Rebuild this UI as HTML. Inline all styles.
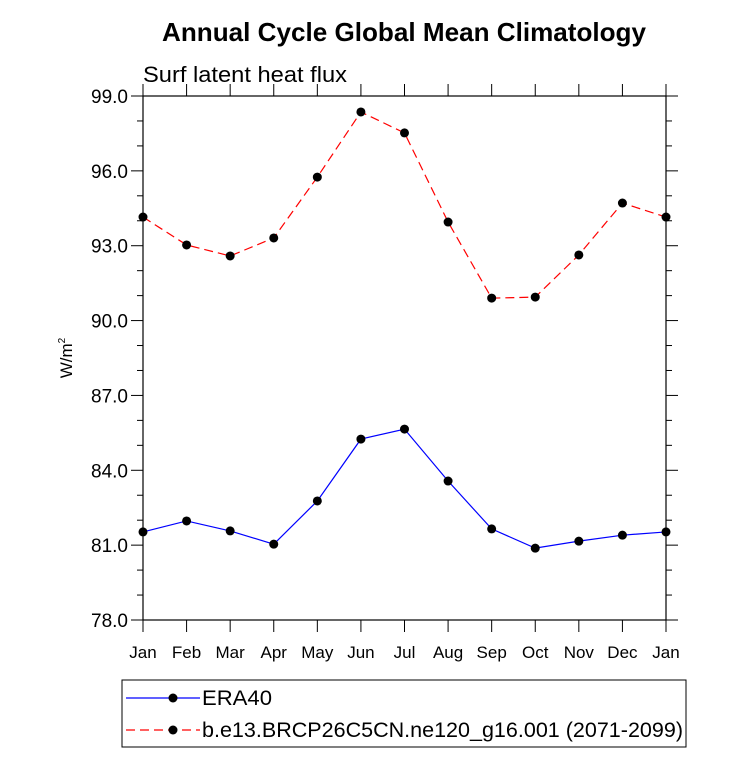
<!DOCTYPE html>
<html><head><meta charset="utf-8"><style>
body{margin:0;background:#fff;}
svg text{font-family:"Liberation Sans",Arial,sans-serif;}
</style></head><body>
<svg id="chart" width="733" height="755" xmlns="http://www.w3.org/2000/svg">
<text x="404" y="41" text-anchor="middle" font-size="26" font-weight="bold" textLength="484" lengthAdjust="spacingAndGlyphs">Annual Cycle Global Mean Climatology</text>
<text x="143" y="82" font-size="22" textLength="204" lengthAdjust="spacingAndGlyphs">Surf latent heat flux</text>
<g id="axes"></g>
<g id="series"></g>
<rect x="122" y="680" width="564" height="67" fill="none" stroke="#000" stroke-width="1"/>
<line x1="126" y1="698" x2="200" y2="698" stroke="#00f" stroke-width="1.2"/>
<circle cx="173" cy="698" r="4.5" fill="#000"/>
<text x="202" y="705" font-size="21" textLength="70" lengthAdjust="spacingAndGlyphs">ERA40</text>
<line x1="126" y1="730" x2="200" y2="730" stroke="#f00" stroke-width="1.2" stroke-dasharray="9,5"/>
<circle cx="173" cy="730" r="4.5" fill="#000"/>
<text x="202" y="737" font-size="21" textLength="481" lengthAdjust="spacingAndGlyphs">b.e13.BRCP26C5CN.ne120_g16.001 (2071-2099)</text>
</svg>
<script>
const months=["Jan","Feb","Mar","Apr","May","Jun","Jul","Aug","Sep","Oct","Nov","Dec","Jan"];
const era40=[81.53,81.97,81.57,81.04,82.77,85.25,85.65,83.57,81.65,80.88,81.16,81.4,81.53];
const model=[94.15,93.03,92.59,93.31,95.75,98.36,97.52,93.95,90.9,90.94,92.63,94.71,94.15];
const yTicks=[78,81,84,87,90,93,96,99];
const L=143,R=666,T=96,B=620,ymin=78,ymax=99;
const NS="http://www.w3.org/2000/svg";
function x(i){return L+(R-L)*i/(months.length-1);}
function y(v){return B-(v-ymin)/(ymax-ymin)*(B-T);}
function mk(tag,attrs,parent){const e=document.createElementNS(NS,tag);for(const k in attrs)e.setAttribute(k,attrs[k]);parent.appendChild(e);return e;}
const ax=document.getElementById('axes');
const frame=mk('rect',{x:L,y:T,width:R-L,height:B-T,fill:'none',stroke:'#000','stroke-width':1.2},ax);


months.forEach((m,i)=>{
  const t1=mk('line',{x1:x(i),x2:x(i),y1:B,y2:B+12,stroke:'#000'},ax);
  
  
  const t2=mk('line',{x1:x(i),x2:x(i),y1:T,y2:T-12,stroke:'#000'},ax);
  
  
  const lb=mk('text',{x:x(i),y:B+38,'text-anchor':'middle','font-size':17},ax);
  lb.textContent=m;
  
  
});
for(let v=ymin;v<=ymax;v+=1){
  const major=yTicks.includes(v);const len=major?12:6;
  const a=mk('line',{x1:L-len,x2:L,y1:y(v),y2:y(v),stroke:'#000'},ax);
  
  
  const b=mk('line',{x1:R,x2:R+len,y1:y(v),y2:y(v),stroke:'#000'},ax);
  
  
}
yTicks.forEach(v=>{
  const lb=mk('text',{x:L-15,y:y(v)+7,'text-anchor':'end','font-size':19},ax);
  lb.textContent=v.toFixed(1);
  
  
});
const yt=mk('text',{transform:'translate(72,358) rotate(-90)','text-anchor':'middle','font-size':17},ax);
yt.innerHTML='W/m<tspan font-size="10" dy="-7">2</tspan>';


const sg=document.getElementById('series');
function draw(vals,color,dash,name){
  const p=mk('polyline',{points:vals.map((v,i)=>x(i)+','+y(v)).join(' '),fill:'none',stroke:color,'stroke-width':1.2,'stroke-dasharray':dash},sg);
  
  
  vals.forEach((v,i)=>{
    const c=mk('circle',{cx:x(i),cy:y(v),r:4.5,fill:'#000'},sg);
    
    
  });
}
draw(model,'#f00','9,5','model');
draw(era40,'#00f','none','era40');
</script>
</body></html>
